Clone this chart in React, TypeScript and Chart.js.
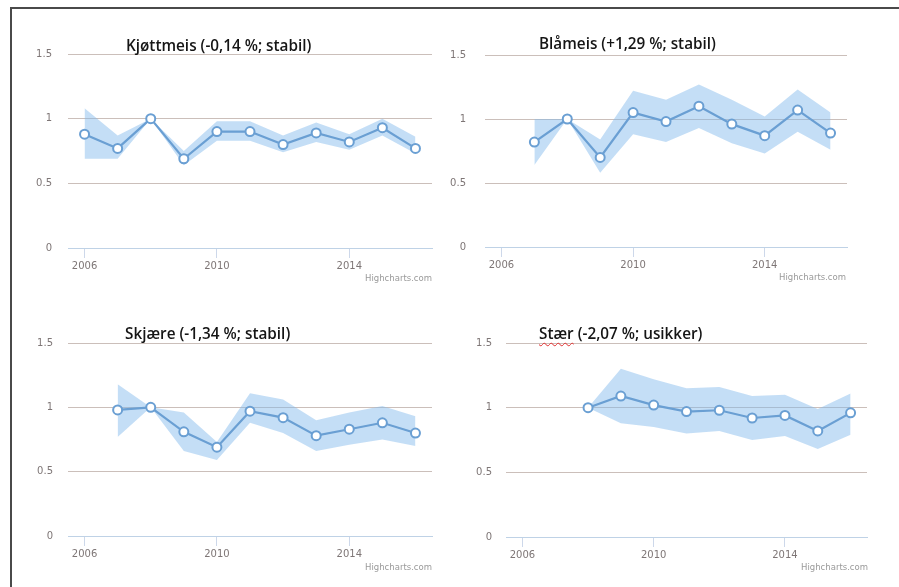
import React, { useEffect, useRef } from "react";
import { Chart, registerables } from "chart.js";

Chart.register(...registerables);

// ---------- data ----------
const xTickYears = [2006, 2010, 2014];
const yTickValues = [0, 0.5, 1, 1.5];

const kjottmeisTitle = "Kjøttmeis (-0,14 %; stabil)";
const kjottmeisYears = [2006, 2007, 2008, 2009, 2010, 2011, 2012, 2013, 2014, 2015, 2016];
const kjottmeisValues = [0.88, 0.77, 1.0, 0.69, 0.9, 0.9, 0.8, 0.89, 0.82, 0.93, 0.77];
const kjottmeisUpper = [1.08, 0.87, 1.0, 0.75, 0.98, 0.98, 0.87, 0.97, 0.88, 1.0, 0.86];
const kjottmeisLower = [0.69, 0.69, 1.0, 0.64, 0.83, 0.83, 0.74, 0.82, 0.76, 0.87, 0.73];

const blameisTitle = "Blåmeis (+1,29 %; stabil)";
const blameisYears = [2007, 2008, 2009, 2010, 2011, 2012, 2013, 2014, 2015, 2016];
const blameisValues = [0.82, 1.0, 0.7, 1.05, 0.98, 1.1, 0.96, 0.87, 1.07, 0.89];
const blameisUpper = [1.0, 1.0, 0.84, 1.22, 1.15, 1.27, 1.15, 1.02, 1.23, 1.05];
const blameisLower = [0.64, 1.0, 0.58, 0.88, 0.82, 0.93, 0.81, 0.73, 0.9, 0.76];

const skjaereTitle = "Skjære (-1,34 %; stabil)";
const skjaereYears = [2007, 2008, 2009, 2010, 2011, 2012, 2013, 2014, 2015, 2016];
const skjaereValues = [0.98, 1.0, 0.81, 0.69, 0.97, 0.92, 0.78, 0.83, 0.88, 0.8];
const skjaereUpper = [1.18, 1.0, 0.96, 0.73, 1.11, 1.06, 0.9, 0.96, 1.01, 0.93];
const skjaereLower = [0.77, 1.0, 0.66, 0.59, 0.88, 0.8, 0.66, 0.71, 0.75, 0.7];

const staerName = "Stær";
const staerRest = " (-2,07 %; usikker)";
const staerYears = [2008, 2009, 2010, 2011, 2012, 2013, 2014, 2015, 2016];
const staerValues = [1.0, 1.09, 1.02, 0.97, 0.98, 0.92, 0.94, 0.82, 0.96];
const staerUpper = [1.0, 1.3, 1.22, 1.15, 1.16, 1.09, 1.1, 0.99, 1.11];
const staerLower = [1.0, 0.88, 0.85, 0.8, 0.82, 0.75, 0.78, 0.68, 0.79];

const creditText = "Highcharts.com";

// ---------- styles ----------
const LINE_COLOR = "#6a9fd3";
const BAND_COLOR = "rgba(130,184,236,0.47)";
const GRID_COLOR = "#cbbfba";
const AXIS_COLOR = "#bfd2e6";
const LABEL_COLOR = "#7e7676";
const Y_AXIS_W = 40;
const X_AXIS_H = 30;

type Rect = { x: number; y: number; w: number; h: number };
type Pad = { left: number; top: number; right: number; bottom: number };

type PanelProps = {
  years: number[];
  values: number[];
  upper: number[];
  lower: number[];
  rect: Rect;
  pad: Pad;
  yLabelPad: number;
};

function pts(xs: number[], ys: number[]) {
  return xs.map((x, i) => ({ x, y: ys[i] }));
}

function ChartPanel({ years, values, upper, lower, rect, pad, yLabelPad }: PanelProps) {
  const ref = useRef<HTMLCanvasElement | null>(null);
  useEffect(() => {
    if (!ref.current) return;
    const chart = new Chart(ref.current, {
      type: "line",
      data: {
        datasets: [
          {
            data: pts(years, values),
            borderColor: LINE_COLOR,
            borderWidth: 2.2,
            pointRadius: 4.5,
            pointBorderWidth: 2,
            pointBackgroundColor: "#ffffff",
            pointBorderColor: LINE_COLOR,
            fill: false,
            tension: 0,
          },
          {
            data: pts(years, upper),
            borderWidth: 0,
            borderColor: "rgba(0,0,0,0)",
            pointRadius: 0,
            fill: false,
            backgroundColor: BAND_COLOR,
          },
          {
            data: pts(years, lower),
            borderWidth: 0,
            borderColor: "rgba(0,0,0,0)",
            pointRadius: 0,
            fill: "-1",
            backgroundColor: BAND_COLOR,
          },
        ],
      },
      options: {
        animation: false,
        responsive: false,
        maintainAspectRatio: false,
        layout: { padding: pad },
        plugins: {
          legend: { display: false },
          tooltip: { enabled: false },
          title: { display: false },
        },
        scales: {
          x: {
            type: "linear",
            min: 2005.5,
            max: 2016.5,
            afterBuildTicks: (s: any) => {
              s.ticks = xTickYears.map((v) => ({ value: v }));
            },
            afterFit: (s: any) => {
              s.height = X_AXIS_H;
            },
            grid: {
              drawOnChartArea: false,
              drawTicks: true,
              tickLength: 10,
              color: "#cdd8ea",
            },
            border: { display: true, color: AXIS_COLOR, width: 1 },
            ticks: {
              padding: 2,
              autoSkip: false,
              maxRotation: 0,
              color: LABEL_COLOR,
              font: { family: "DejaVu Sans", size: 10 },
              callback: (v: any) => String(v),
            },
          },
          y: {
            type: "linear",
            min: 0,
            max: 1.5,
            afterBuildTicks: (s: any) => {
              s.ticks = yTickValues.map((v) => ({ value: v }));
            },
            afterFit: (s: any) => {
              s.width = Y_AXIS_W;
            },
            grid: {
              drawTicks: false,
              color: (ctx: any) => (ctx.tick && ctx.tick.value === 0 ? "rgba(0,0,0,0)" : GRID_COLOR),
            },
            border: { display: false },
            ticks: {
              padding: yLabelPad,
              color: LABEL_COLOR,
              font: { family: "DejaVu Sans", size: 10 },
              callback: (v: any) => String(v),
            },
          },
        },
      } as any,
    });
    return () => chart.destroy();
  }, []);
  return (
    <canvas
      ref={ref}
      width={rect.w}
      height={rect.h}
      style={{ position: "absolute", left: rect.x, top: rect.y, width: rect.w, height: rect.h }}
    />
  );
}

const titleStyle: React.CSSProperties = {
  position: "absolute",
  fontFamily: "'Open Sans', sans-serif",
  fontWeight: 600,
  fontSize: 15.3,
  lineHeight: "20px",
  color: "#151515",
  whiteSpace: "nowrap",
};

const creditStyle: React.CSSProperties = {
  position: "absolute",
  fontFamily: "'DejaVu Sans', sans-serif",
  fontSize: 8.5,
  lineHeight: "10px",
  color: "#9a9a9a",
  whiteSpace: "nowrap",
  textAlign: "right",
};

export default function App() {
  return (
    <div
      style={{
        position: "absolute",
        left: 0,
        top: 0,
        width: 899,
        height: 587,
        background: "#ffffff",
        overflow: "hidden",
      }}
    >
      <div
        style={{
          position: "absolute",
          left: 10,
          top: 7,
          width: 1000,
          height: 700,
          borderTop: "2px solid #4a4a4a",
          borderLeft: "2px solid #4a4a4a",
        }}
      />

      <ChartPanel
        years={kjottmeisYears}
        values={kjottmeisValues}
        upper={kjottmeisUpper}
        lower={kjottmeisLower}
        rect={{ x: 14, y: 30, w: 425, h: 250 }}
        pad={{ left: 14, top: 24, right: 7, bottom: 2 }}
        yLabelPad={16}
      />
      <ChartPanel
        years={blameisYears}
        values={blameisValues}
        upper={blameisUpper}
        lower={blameisLower}
        rect={{ x: 440, y: 30, w: 420, h: 250 }}
        pad={{ left: 5, top: 24, right: 13, bottom: 3 }}
        yLabelPad={19}
      />
      <ChartPanel
        years={skjaereYears}
        values={skjaereValues}
        upper={skjaereUpper}
        lower={skjaereLower}
        rect={{ x: 14, y: 315, w: 425, h: 260 }}
        pad={{ left: 14, top: 28, right: 7, bottom: 9 }}
        yLabelPad={15}
      />
      <ChartPanel
        years={staerYears}
        values={staerValues}
        upper={staerUpper}
        lower={staerLower}
        rect={{ x: 445, y: 315, w: 435, h: 260 }}
        pad={{ left: 21, top: 28, right: 13, bottom: 8 }}
        yLabelPad={14}
      />

      <div style={{ ...titleStyle, left: 126, top: 35 }}>{kjottmeisTitle}</div>
      <div style={{ ...titleStyle, left: 539, top: 33 }}>{blameisTitle}</div>
      <div style={{ ...titleStyle, left: 125, top: 323 }}>{skjaereTitle}</div>
      <div style={{ ...titleStyle, left: 539, top: 323 }}>
        <span style={{ textDecoration: "underline wavy #e03030", textDecorationThickness: 1, textUnderlineOffset: 3 }}>
          {staerName}
        </span>
        {staerRest}
      </div>

      <div style={{ ...creditStyle, right: 899 - 432, top: 273 }}>{creditText}</div>
      <div style={{ ...creditStyle, right: 899 - 846, top: 272 }}>{creditText}</div>
      <div style={{ ...creditStyle, right: 899 - 432, top: 562 }}>{creditText}</div>
      <div style={{ ...creditStyle, right: 899 - 868, top: 562 }}>{creditText}</div>
    </div>
  );
}
